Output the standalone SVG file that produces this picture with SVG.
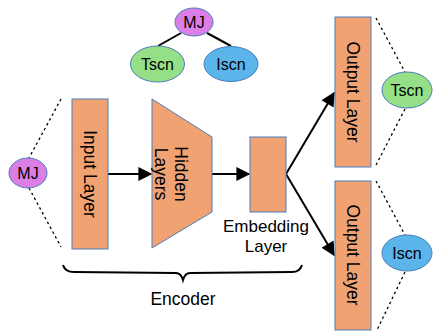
<svg xmlns="http://www.w3.org/2000/svg" width="433" height="331" viewBox="0 0 433 331">
<style>
.layer{fill:#F1A272;stroke:#4A7EBB;stroke-width:1}
.mj{fill:#DB7FE6;stroke:#4A7EBB;stroke-width:1}
.ts{fill:#95E086;stroke:#4A7EBB;stroke-width:1}
.is{fill:#5BB4EA;stroke:#4A7EBB;stroke-width:1}
text{font-family:"Liberation Sans",Arial,sans-serif;fill:#000;text-anchor:middle}
.lbl{font-size:16px}
.big{font-size:17.5px}
.emb{font-size:17px}
.arrow{stroke:#000;stroke-width:2;fill:none;marker-end:url(#ah)}
.tree{stroke:#000;stroke-width:2;fill:none}
.dot{stroke:#000;stroke-width:1.3;stroke-dasharray:2.5 3;fill:none}
</style>
<defs>
<marker id="ah" viewBox="0 0 10 10" refX="9" refY="5" markerWidth="9" markerHeight="7" markerUnits="strokeWidth" orient="auto">
<path d="M0,0 L10,5 L0,10 z" fill="#000"/>
</marker>
</defs>
<g id="connectors">
<line class="tree" x1="158" y1="46" x2="181" y2="33"/>
<line class="tree" x1="207" y1="33" x2="231" y2="46"/>
<line class="dot" x1="61" y1="99" x2="29" y2="158"/>
<line class="dot" x1="29" y1="188" x2="61" y2="247"/>
<line class="dot" x1="376" y1="18" x2="405" y2="72"/>
<line class="dot" x1="405" y1="109" x2="376" y2="165"/>
<line class="dot" x1="376" y1="181" x2="405" y2="235"/>
<line class="dot" x1="405" y1="272" x2="377" y2="330"/>
<line class="arrow" x1="108" y1="174" x2="151" y2="174"/>
<line class="arrow" x1="212" y1="174" x2="249" y2="174"/>
<line class="arrow" x1="286" y1="174" x2="334" y2="93"/>
<line class="arrow" x1="286" y1="174" x2="334" y2="255"/>
<path d="M63,265 Q65,272 74,272 L176,273 Q181,273 183,280 Q185,273 190,273 L292,272 Q300,272 302,265" stroke="#000" stroke-width="2" fill="none"/>
</g>
<g id="tree-mj"><ellipse class="mj" cx="194" cy="22" rx="19" ry="14"/><text class="lbl" x="194" y="28">MJ</text></g>
<g id="tree-tscn"><ellipse class="ts" cx="157.5" cy="64" rx="27" ry="18"/><text class="lbl" x="157.5" y="70">Tscn</text></g>
<g id="tree-iscn"><ellipse class="is" cx="231" cy="64" rx="27" ry="17.5"/><text class="lbl" x="231" y="70">Iscn</text></g>
<g id="mj-in"><ellipse class="mj" cx="28" cy="173" rx="19" ry="15"/><text class="lbl" x="28" y="179">MJ</text></g>
<g id="input-layer"><rect class="layer" x="72" y="99" width="36" height="150"/><text class="big" transform="translate(90,174) rotate(90)" x="0" y="6">Input Layer</text></g>
<g id="hidden-layers"><polygon class="layer" points="152,99 212,137 212,212 152,248"/><text class="big" transform="translate(182,174) rotate(90)"><tspan x="0" y="7">Hidden</tspan><tspan x="0" y="27">Layers</tspan></text></g>
<g id="embedding-layer"><rect class="layer" x="250" y="137" width="36" height="75"/><text class="emb" x="266" y="232">Embedding</text><text class="emb" x="266" y="252">Layer</text></g>
<g id="output-top"><rect class="layer" x="335" y="17" width="36" height="150"/><text class="big" transform="translate(353,92) rotate(90)" x="0" y="6">Output Layer</text></g>
<g id="output-bottom"><rect class="layer" x="335" y="181" width="36" height="149"/><text class="big" transform="translate(353,255) rotate(90)" x="0" y="6">Output Layer</text></g>
<g id="out-tscn"><ellipse class="ts" cx="407" cy="90" rx="25" ry="18"/><text class="lbl" x="407" y="96">Tscn</text></g>
<g id="out-iscn"><ellipse class="is" cx="407" cy="253" rx="25" ry="18"/><text class="lbl" x="407" y="259">Iscn</text></g>
<g id="encoder"><text class="big" x="183" y="305">Encoder</text></g>
</svg>
